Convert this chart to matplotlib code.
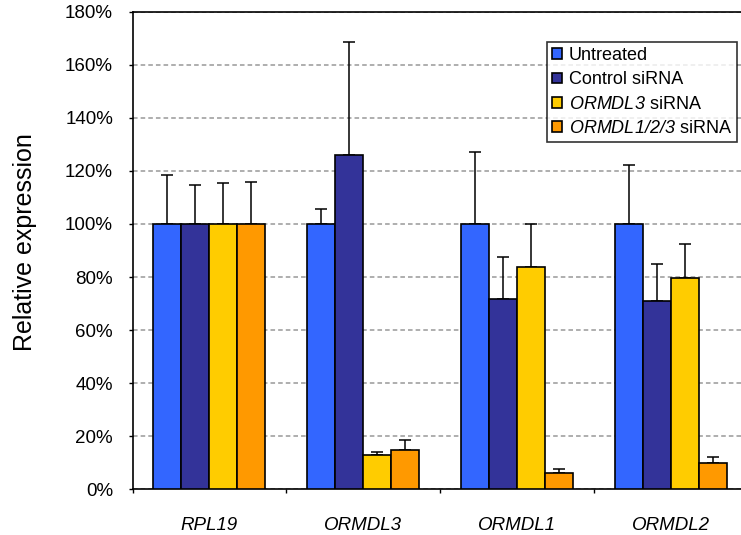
import matplotlib
matplotlib.use("Agg")
import matplotlib.pyplot as plt
import numpy as np
from matplotlib.ticker import FuncFormatter, FixedLocator

plt.rcParams['font.family'] = ['Liberation Sans', 'DejaVu Sans']
# mathtext only used for the italic gene names in the legend
plt.rcParams['mathtext.fontset'] = 'custom'
plt.rcParams['mathtext.it'] = 'Liberation Sans:italic'
plt.rcParams['mathtext.rm'] = 'Liberation Sans:italic'

# data (percent)
genes = ['RPL19', 'ORMDL3', 'ORMDL1', 'ORMDL2']
untreated = [100, 100, 100, 100]
untreated_err = [18.6, 5.8, 27.0, 22.3]
control = [100, 126, 71.7, 70.8]
control_err = [14.6, 42.6, 15.8, 14.0]
ormdl3_si = [100, 12.9, 83.8, 79.5]
ormdl3_si_err = [15.3, 1.1, 16.2, 12.8]
ormdl123_si = [100, 14.7, 6.2, 9.9]
ormdl123_si_err = [15.7, 3.9, 1.3, 2.1]

series = [
    (untreated, untreated_err, '#3366FF', 'Untreated'),
    (control, control_err, '#333399', 'Control siRNA'),
    (ormdl3_si, ormdl3_si_err, '#FFCC00', r'$\mathrm{ORMDL3}$ siRNA'),
    (ormdl123_si, ormdl123_si_err, '#FF9900', r'$\mathrm{ORMDL1/2/3}$ siRNA'),
]

fig = plt.figure(figsize=(7.41, 5.35), dpi=100)
ax = fig.add_axes([132.5 / 741, 1 - 489.3 / 535, (748 - 132.5) / 741, (489.3 - 11.7) / 535])

x = np.arange(len(genes))
w = 0.182
for i, (vals, errs, col, lab) in enumerate(series):
    pos = x + (i - 1.5) * w
    ax.bar(pos, vals, width=w, color=col, edgecolor='black', linewidth=1.2,
           label=lab, zorder=3)
    ax.errorbar(pos, vals, yerr=[np.zeros(len(errs)), errs], fmt='none',
                ecolor='black', elinewidth=1.1, capsize=4, capthick=1.1, zorder=2)

ax.set_xlim(-0.5, len(genes) - 0.5)
ax.set_ylim(0, 180)
ax.set_yticks(np.arange(0, 181, 20))
ax.yaxis.set_major_formatter(FuncFormatter(lambda v, p: f"{v:.0f}%"))
ax.yaxis.grid(True, color='#999999', linestyle=(0, (3, 2)), linewidth=1.1, zorder=0)

ax.set_xticks(x)
ax.set_xticklabels(genes, fontsize=13.5, style='italic')
ax.tick_params(axis='x', which='major', length=0, pad=20)
ax.xaxis.set_minor_locator(FixedLocator(np.arange(-0.5, len(genes), 1)))
ax.tick_params(axis='x', which='minor', length=3, width=1, direction='out')
ax.tick_params(axis='y', length=3, width=1, labelsize=13.5, pad=11)

for s in ax.spines.values():
    s.set_linewidth(1.2)
    s.set_color('black')

fig.text(25 / 741, 1 - 242 / 535, 'Relative expression', rotation=90,
         fontsize=18, ha='center', va='center')

leg = ax.legend(loc='upper right', bbox_to_anchor=((737 - 132.5) / (748 - 132.5), (489.3 - 41.7) / (489.3 - 11.7)),
                fontsize=13, frameon=True, fancybox=False, edgecolor='black',
                handlelength=0.55, handleheight=0.55, handletextpad=0.35,
                labelspacing=0.4, borderpad=0.3, borderaxespad=0)
leg.get_frame().set_linewidth(1.2)
leg.set_zorder(5)

fig.savefig('out.png', dpi=100)
